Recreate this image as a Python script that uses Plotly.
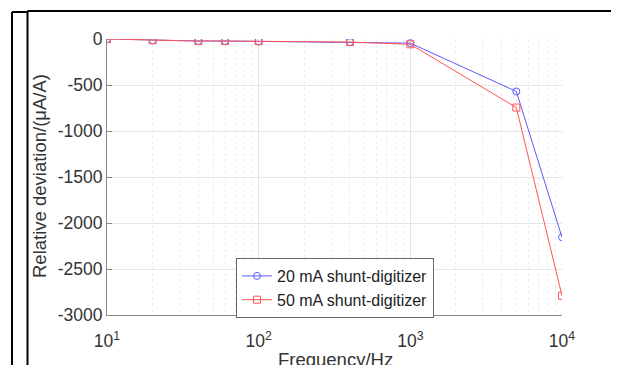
import plotly.graph_objects as go

freq = [10, 20, 40, 60, 100, 400, 1000, 5000, 10000]
dev_20mA = [0, -14, -22, -22, -25, -33, -45, -570, -2155]
dev_50mA = [0, -14, -22, -22, -25, -33, -58, -745, -2790]
series_names = ["20 mA shunt-digitizer", "50 mA shunt-digitizer"]
x_tickvals = [10, 100, 1000, 10000]
x_ticktext = ["10<sup>1</sup>", "10<sup>2</sup>", "10<sup>3</sup>", "10<sup>4</sup>"]
y_tickvals = [0, -500, -1000, -1500, -2000, -2500, -3000]
y_ticktext = ["0", "-500", "-1000", "-1500", "-2000", "-2500", "-3000"]

FONT = "Liberation Sans, Arial, sans-serif"
W, H = 611, 357
L, R, T, B = 99, 57, 31, 50
PW, PH = W - L - R, H - T - B

fig = go.Figure()
fig.add_trace(go.Scatter(
    x=freq, y=dev_20mA, name=series_names[0], mode="lines+markers",
    line=dict(color="rgb(90,90,255)", width=1),
    marker=dict(symbol="circle-open", size=7, color="rgb(90,90,255)", line=dict(width=1)),
))
fig.add_trace(go.Scatter(
    x=freq, y=dev_50mA, name=series_names[1], mode="lines+markers",
    line=dict(color="rgb(255,85,85)", width=1),
    marker=dict(symbol="square-open", size=7, color="rgb(255,85,85)", line=dict(width=1)),
))

fig.update_layout(
    width=W, height=H,
    margin=dict(l=L, r=R, t=T, b=B),
    paper_bgcolor="white", plot_bgcolor="white",
    font=dict(family=FONT, size=17, color="#333"),
    showlegend=True,
    legend=dict(
        x=(228 - L) / PW, y=(T + PH - 250) / PH, xanchor="left", yanchor="top",
        bgcolor="white", bordercolor="#666", borderwidth=1,
        font=dict(family=FONT, size=16, color="#222"),
        tracegroupgap=0, itemwidth=30,
    ),
)

fig.update_xaxes(
    type="log", range=[1, 4],
    tickvals=x_tickvals, ticktext=x_ticktext,
    showgrid=True, gridcolor="#e3e3e3", gridwidth=1,
    showline=True, linecolor="#888", linewidth=1,
    ticks="inside", ticklen=5, tickcolor="#888",
    tickfont=dict(family=FONT, size=17.5, color="#333"),
    ticklabelstandoff=10,
    zeroline=False,
    minor=dict(dtick="D1", showgrid=True, gridcolor="#ececec", griddash="dot", ticks=""),
)
fig.update_yaxes(
    range=[-3000, 0], tickvals=y_tickvals, ticktext=y_ticktext,
    showgrid=True, gridcolor="#e6e6e6", gridwidth=1,
    showline=True, linecolor="#888", linewidth=1,
    ticks="inside", ticklen=5, tickcolor="#888",
    tickfont=dict(family=FONT, size=17.5, color="#333"),
    zeroline=False,
)

fig.add_annotation(
    text="Relative deviation/(\u03bcA/A)", xref="paper", yref="paper",
    x=(31 - L) / PW, y=(T + PH - 168) / PH, xanchor="center", yanchor="middle", textangle=-90,
    showarrow=False, font=dict(family=FONT, size=18.5, color="#333"),
)
fig.add_annotation(
    text="Frequency/Hz", xref="paper", yref="paper",
    x=(327 - L) / PW, y=(T + PH - 339) / PH, xanchor="center", yanchor="top",
    showarrow=False, font=dict(family=FONT, size=18.5, color="#333"),
)

# black frame lines around the figure (figure pixel coords -> paper)
frame = dict(color="black", width=2)
def px_x(v):
    return (v - L) / PW
def px_y(v):
    return (T + PH - v) / PH
shapes = [
    dict(type="line", xref="paper", yref="paper", x0=px_x(4), x1=px_x(4), y0=px_y(4), y1=px_y(H + 2), line=frame),
    dict(type="line", xref="paper", yref="paper", x0=px_x(4), x1=px_x(19.5), y0=px_y(4), y1=px_y(4), line=frame),
    dict(type="line", xref="paper", yref="paper", x0=px_x(19.5), x1=px_x(19.5), y0=px_y(3), y1=px_y(H + 2), line=frame),
    dict(type="line", xref="paper", yref="paper", x0=px_x(19.5), x1=px_x(610), y0=px_y(3), y1=px_y(3), line=frame),
    dict(type="line", xref="paper", yref="paper", x0=px_x(610), x1=px_x(610), y0=px_y(3), y1=px_y(H + 2), line=frame),
]
fig.update_layout(shapes=shapes)

fig.write_html("out.html")
